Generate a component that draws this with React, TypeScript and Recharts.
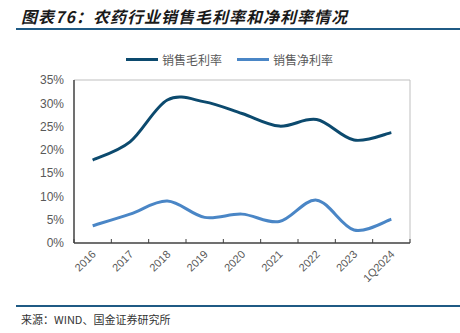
import React from "react";
import { LineChart, Line, XAxis, YAxis, ReferenceLine } from "recharts";

const categories = ["2016", "2017", "2018", "2019", "2020", "2021", "2022", "2023", "1Q2024"];
const grossMargin = [17.8, 21.7, 30.7, 30.3, 27.8, 25.1, 26.5, 22.1, 23.7];
const netMargin = [3.7, 6.2, 9.0, 5.5, 6.2, 4.6, 9.2, 2.8, 5.1];
const yTicks = [0, 5, 10, 15, 20, 25, 30, 35];

const GROSS_COLOR = "#0c4a6e";
const NET_COLOR = "#4a86c6";
const RULE_COLOR = "#1f5a84";
const LABEL_COLOR = "#595959";
const FRAME_COLOR = "#bfbfbf";
const CJK = '"Noto Sans CJK SC", "Liberation Sans", sans-serif';

// x positions sit in the middle of each category slot; slot edges get the tick marks
const chartData = categories.map((name, i) => ({
  idx: i + 0.5,
  name,
  gross: grossMargin[i],
  net: netMargin[i],
}));
const xTicks: number[] = [];
for (let i = 0; i <= categories.length * 2; i++) xTicks.push(i / 2);

// Excel-style smoothed line (Catmull-Rom through the points)
const smoothCurve = (context: any) => {
  let pts: number[][] = [];
  return {
    areaStart() {},
    areaEnd() {},
    lineStart() {
      pts = [];
    },
    point(x: number, y: number) {
      pts.push([+x, +y]);
    },
    lineEnd() {
      const n = pts.length;
      if (!n) return;
      context.moveTo(pts[0][0], pts[0][1]);
      for (let i = 0; i < n - 1; i++) {
        const p0 = pts[Math.max(i - 1, 0)];
        const p1 = pts[i];
        const p2 = pts[i + 1];
        const p3 = pts[Math.min(i + 2, n - 1)];
        context.bezierCurveTo(
          p1[0] + (p2[0] - p0[0]) / 6,
          p1[1] + (p2[1] - p0[1]) / 6,
          p2[0] - (p3[0] - p1[0]) / 6,
          p2[1] - (p3[1] - p1[1]) / 6,
          p2[0],
          p2[1]
        );
      }
    },
  };
};

const XTick = (props: any) => {
  const { x, y, payload } = props;
  const v = payload.value as number;
  if (Number.isInteger(v)) {
    return <line x1={x} y1={y} x2={x} y2={y - 4} stroke="#404040" strokeWidth={1} />;
  }
  const label = categories[Math.floor(v)];
  return (
    <text
      x={x + 4}
      y={y + 12}
      transform={`rotate(-45, ${x + 4}, ${y + 12})`}
      textAnchor="end"
      fontSize={11}
      fill={LABEL_COLOR}
      fontFamily='"Liberation Sans", Arial, sans-serif'
    >
      {label}
    </text>
  );
};

const legendItems = [
  { label: "销售毛利率", color: GROSS_COLOR },
  { label: "销售净利率", color: NET_COLOR },
];

export default function App() {
  return (
    <div
      style={{
        position: "absolute",
        left: 0,
        top: 0,
        width: 460,
        height: 333,
        background: "#fff",
        overflow: "hidden",
      }}
    >
      <div
        style={{
          position: "absolute",
          left: 21,
          top: 4,
          fontFamily: CJK,
          fontSize: 16,
          fontWeight: 700,
          fontStyle: "italic",
          letterSpacing: 1,
          color: "#1a1a1a",
          whiteSpace: "nowrap",
        }}
      >
        图表76：农药行业销售毛利率和净利率情况
      </div>
      <div
        style={{
          position: "absolute",
          left: 16,
          top: 28,
          width: 444,
          height: 2,
          background: RULE_COLOR,
        }}
      />
      <div
        style={{
          position: "absolute",
          top: 51,
          left: 126,
          display: "flex",
          alignItems: "center",
          fontFamily: CJK,
          fontSize: 12,
          color: LABEL_COLOR,
          whiteSpace: "nowrap",
        }}
      >
        {legendItems.map((it, i) => (
          <div
            key={it.label}
            style={{ display: "flex", alignItems: "center", marginRight: i === 0 ? 15 : 0 }}
          >
            <div style={{ width: 32, height: 3, background: it.color, marginRight: 4 }} />
            <span>{it.label}</span>
          </div>
        ))}
      </div>
      <div style={{ position: "absolute", left: 0, top: 0 }}>
        <LineChart
          width={460}
          height={300}
          data={chartData}
          margin={{ top: 80, right: 50, left: 0, bottom: 0 }}
        >
          <XAxis
            dataKey="idx"
            type="number"
            domain={[0, categories.length]}
            ticks={xTicks}
            interval={0}
            tickLine={false}
            tickSize={0}
            tickMargin={0}
            tick={<XTick />}
            axisLine={{ stroke: "#404040", strokeWidth: 1.5 }}
            height={57}
          />
          <YAxis
            domain={[0, 35]}
            ticks={yTicks}
            interval={0}
            tickFormatter={(v: number) => `${v}%`}
            tickLine={false}
            tickSize={0}
            tickMargin={10}
            tick={{ fontSize: 12, fill: LABEL_COLOR, fontFamily: '"Liberation Sans", Arial, sans-serif' }}
            axisLine={{ stroke: "#404040", strokeWidth: 1.5 }}
            width={74}
          />
          <ReferenceLine y={35} stroke={FRAME_COLOR} strokeWidth={1} />
          <ReferenceLine x={categories.length} stroke={FRAME_COLOR} strokeWidth={1} />
          <Line
            type={smoothCurve as any}
            dataKey="gross"
            stroke={GROSS_COLOR}
            strokeWidth={3}
            dot={false}
            isAnimationActive={false}
          />
          <Line
            type={smoothCurve as any}
            dataKey="net"
            stroke={NET_COLOR}
            strokeWidth={3}
            dot={false}
            isAnimationActive={false}
          />
        </LineChart>
      </div>
      <div
        style={{
          position: "absolute",
          left: 16,
          top: 305,
          width: 444,
          height: 2,
          background: RULE_COLOR,
        }}
      />
      <div
        style={{
          position: "absolute",
          left: 21,
          top: 311,
          fontFamily: CJK,
          fontSize: 11,
          color: "#333",
          whiteSpace: "nowrap",
        }}
      >
        来源：WIND、国金证券研究所
      </div>
    </div>
  );
}
